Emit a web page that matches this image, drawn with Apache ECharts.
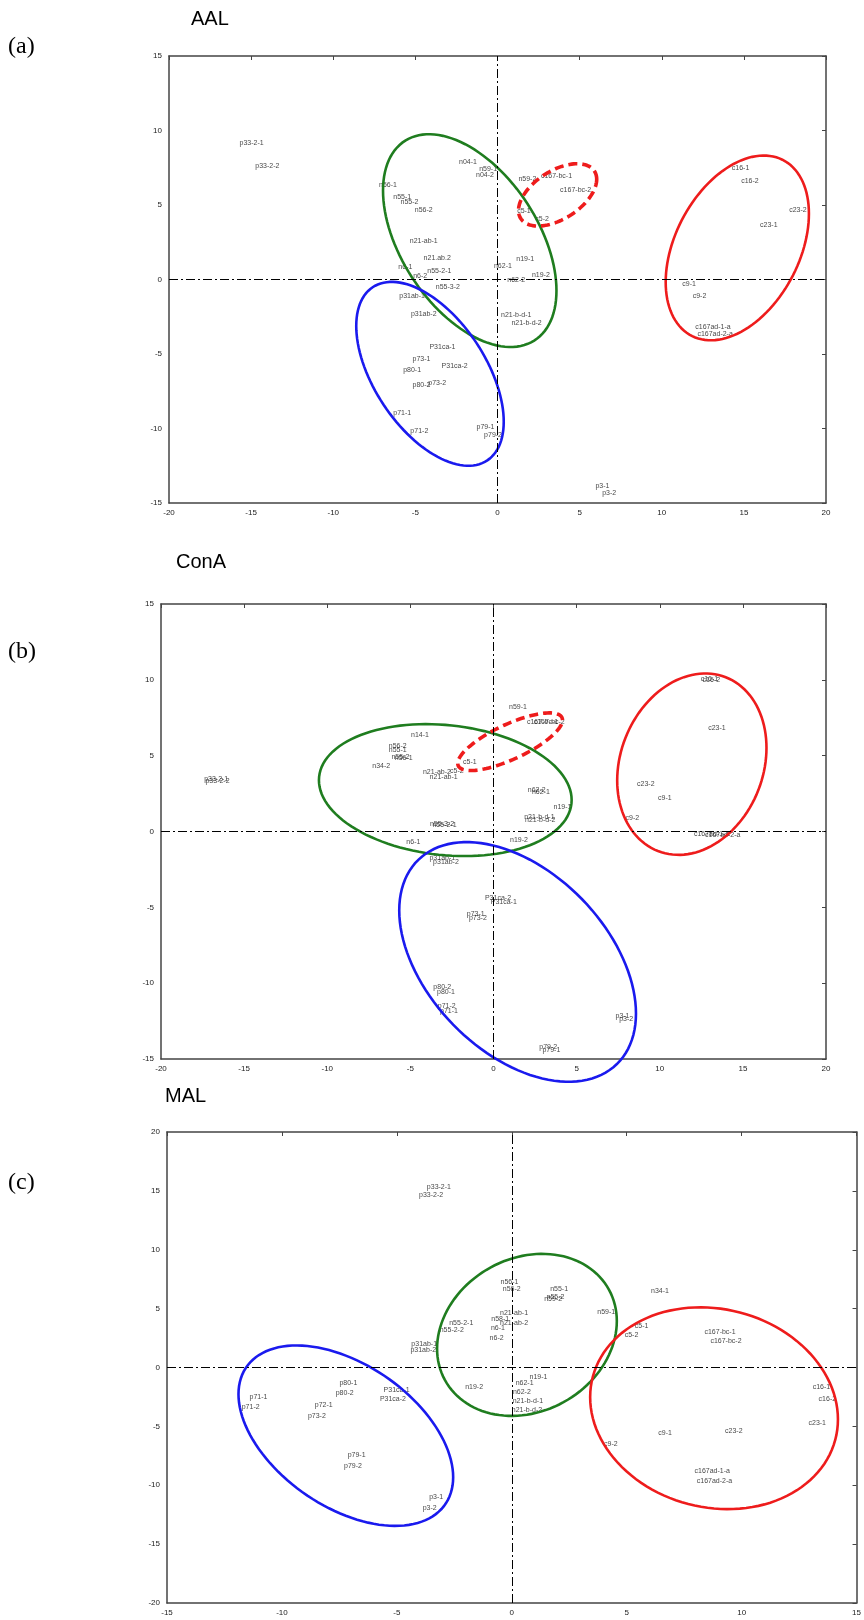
<!DOCTYPE html>
<html><head><meta charset="utf-8">
<script src="https://cdn.jsdelivr.net/npm/echarts@6/dist/echarts.min.js"></script>
<style>html,body{margin:0;padding:0;background:#fff}#c{width:864px;height:1620px}</style>
</head><body><div id="c"></div><script>
// ---------- AAL ----------
const aalLabels = ['p33-2-1','p33-2-2','n04-1','n59-1','n04-2','n59-2','c167-bc-1','c167-bc-2','n56-1','n55-1','n55-2','n56-2','c5-1','c5-2','n21-ab-1','n21.ab.2','n6-1','n55-2-1','n6-2','n62-1','n19-1','n19-2','n62-2','n55-3-2','p31ab-1','p31ab-2','n21-b-d-1','n21-b-d-2','P31ca-1','p73-1','P31ca-2','p80-1','p73-2','p80-2','p71-1','p71-2','p79-1','p79-2','p3-1','p3-2','c16-1','c16-2','c23-2','c23-1','c9-1','c9-2','c167ad-1-a','c167ad-2-a'];
const aalX = [-14.97,-14.01,-1.80,-0.57,-0.76,1.82,3.59,4.76,-6.67,-5.80,-5.36,-4.49,1.61,2.72,-4.49,-3.67,-5.61,-3.54,-4.71,0.33,1.69,2.64,1.14,-3.02,-5.20,-4.49,1.14,1.77,-3.35,-4.63,-2.61,-5.20,-3.67,-4.63,-5.80,-4.76,-0.73,-0.27,6.39,6.80,14.80,15.37,18.29,16.52,11.67,12.30,13.12,13.25];
const aalY = [9.19,7.58,7.91,7.44,7.00,6.77,6.91,6.01,6.32,5.56,5.20,4.66,4.62,4.08,2.56,1.43,0.85,0.54,0.22,0.92,1.35,0.31,-0.04,-0.54,-1.08,-2.29,-2.40,-2.91,-4.53,-5.34,-5.83,-6.05,-6.93,-7.11,-8.95,-10.20,-9.87,-10.43,-13.83,-14.35,7.47,6.61,4.66,3.63,-0.31,-1.12,-3.18,-3.63];
// ellipses: [centerX, centerY, halfWidth, halfHeight, correlation]
const aalEllipses = [[-1.69,2.61,5.28,7.14,-0.47],[-4.11,-6.33,4.49,6.17,-0.52],[14.6,2.12,4.36,6.2,0.37],[3.66,5.68,2.38,2.09,0.5]];
const aalEllipseKinds = ['green','blue','red','reddash'];

// ---------- ConA ----------
const conaLabels = ['p33-2-1','p33-2-2','n14-1','n56-2','n55-1','n55-2','n56-1','n34-2','n21-ab-2','n21-ab-1','c5-2','c5-1','n59-1','c167-bc-1','c167-bc-2','n62-2','n62-1','n19-1','n21-b-d-1','n21-b-d-2','n55-3-2','n55-2-1','n19-2','n6-1','p31ab-1','p31ab-2','P31ca-2','P31ca-1','p73-1','p73-2','p80-2','p80-1','p71-2','p71-1','p3-1','p3-2','p79-2','p79-1','c16-1','c16-2','c23-1','c23-2','c9-1','c9-2','c167ad-1-a','c167ad-2-a'];
const conaX = [-16.68,-16.60,-4.42,-5.76,-5.76,-5.60,-5.40,-6.75,-3.40,-3.00,-2.20,-1.42,1.47,2.95,3.35,2.60,2.85,4.15,2.76,2.81,-3.10,-2.95,1.53,-4.82,-3.08,-2.86,0.27,0.62,-1.07,-0.94,-3.08,-2.86,-2.81,-2.68,7.76,7.98,3.29,3.48,12.99,13.10,13.44,9.16,10.31,8.35,13.12,13.79];
const conaY = [3.49,3.30,6.33,5.65,5.36,4.90,4.86,4.33,3.90,3.60,3.99,4.56,8.21,7.24,7.24,2.75,2.62,1.63,0.95,0.73,0.50,0.43,-0.59,-0.70,-1.72,-2.02,-4.38,-4.67,-5.42,-5.74,-10.28,-10.57,-11.48,-11.82,-12.16,-12.34,-14.20,-14.43,10.07,10.00,6.85,3.15,2.22,0.88,-0.20,-0.25];
const conaEllipses = [[-2.9,2.73,7.6,4.35,-0.15],[1.45,-8.6,7.12,7.9,-0.43],[11.93,4.44,4.49,5.98,0.18],[1.0,5.92,3.15,1.9,0.75]];
const conaEllipseKinds = ['green','blue','red','reddash'];

// ---------- MAL ----------
const malLabels = ['p33-2-1','p33-2-2','n56-1','n56-2','n55-1','n55-2','n59-2','n34-1','n59-1','n21-ab-1','n21-ab-2','n58-1','n55-2-1','n55-2-2','n6-1','n6-2','c5-1','c5-2','c167-bc-1','c167-bc-2','p31ab-1','p31ab-2','n19-1','n62-1','n19-2','n62-2','n21-b-d-1','n21-b-d-2','p80-1','p80-2','P31ca-1','P31ca-2','p71-1','p71-2','p72-1','p73-2','p79-1','p79-2','p3-1','p3-2','c16-1','c16-2','c23-1','c9-1','c23-2','c9-2','c167ad-1-a','c167ad-2-a'];
const malX = [-3.17,-3.51,-0.10,0.00,2.06,1.90,1.80,6.45,4.11,0.10,0.10,-0.50,-2.20,-2.61,-0.60,-0.66,5.65,5.21,9.06,9.32,-3.81,-3.85,1.16,0.56,-1.64,0.44,0.70,0.66,-7.11,-7.27,-5.01,-5.17,-11.02,-11.36,-8.18,-8.48,-6.75,-6.91,-3.29,-3.57,13.47,13.73,13.29,6.67,9.66,4.31,8.72,8.82];
const malY = [15.32,14.68,7.25,6.65,6.65,6.01,5.80,6.47,4.71,4.59,3.75,4.10,3.75,3.20,3.32,2.54,3.50,2.72,2.99,2.24,1.96,1.48,-0.79,-1.30,-1.69,-2.11,-2.81,-3.63,-1.36,-2.15,-1.90,-2.66,-2.48,-3.35,-3.17,-4.11,-7.46,-8.40,-10.97,-11.93,-1.63,-2.72,-4.71,-5.56,-5.44,-6.50,-8.76,-9.61];
const malEllipses = [[0.66,2.77,3.91,6.88,0.17],[-7.22,-5.79,4.67,7.66,-0.46],[8.8,-3.46,5.39,8.57,-0.11]];
const malEllipseKinds = ['green','blue','red'];

// ---------- layout / styles ----------
const panels = [
  {labels: aalLabels, xs: aalX, ys: aalY, ell: aalEllipses, kinds: aalEllipseKinds,
   grid: {left:169, top:56, width:657, height:447}, xr:[-20,20], yr:[-15,15]},
  {labels: conaLabels, xs: conaX, ys: conaY, ell: conaEllipses, kinds: conaEllipseKinds,
   grid: {left:161, top:604, width:665, height:455}, xr:[-20,20], yr:[-15,15]},
  {labels: malLabels, xs: malX, ys: malY, ell: malEllipses, kinds: malEllipseKinds,
   grid: {left:167, top:1132, width:694, height:471}, xr:[-15,15], yr:[-20,20]}
];
const kindStyle = {
  green: {stroke:'#1f7d1f', lineWidth:2.6, lineDash:null},
  blue: {stroke:'#1a1aee', lineWidth:2.6, lineDash:null},
  red: {stroke:'#ee1c1c', lineWidth:2.6, lineDash:null},
  reddash: {stroke:'#ee1c1c', lineWidth:3.6, lineDash:[9,5]}
};

const grids = [], xAxes = [], yAxes = [], series = [];
const axisLine = {show:true, onZero:false, lineStyle:{color:'#444', width:1.5}};
const tickLabel = {fontSize:8, color:'#222', fontFamily:'Liberation Sans'};
panels.forEach((p, i) => {
  grids.push(Object.assign({containLabel:false}, p.grid));
  const bx = xAxes.length;
  xAxes.push({gridIndex:i, type:'value', position:'bottom', min:p.xr[0], max:p.xr[1], interval:5,
    axisLine, axisTick:{show:false}, splitLine:{show:false}, axisLabel:Object.assign({margin:6}, tickLabel)});
  xAxes.push({gridIndex:i, type:'value', position:'top', min:p.xr[0], max:p.xr[1], interval:5,
    axisLine, axisTick:{show:true, inside:true, length:4, lineStyle:{color:'#444'}}, splitLine:{show:false}, axisLabel:{show:false}});
  const by = yAxes.length;
  yAxes.push({gridIndex:i, type:'value', position:'left', min:p.yr[0], max:p.yr[1], interval:5,
    axisLine, axisTick:{show:false}, splitLine:{show:false}, axisLabel:Object.assign({margin:7}, tickLabel)});
  yAxes.push({gridIndex:i, type:'value', position:'right', min:p.yr[0], max:p.yr[1], interval:5,
    axisLine, axisTick:{show:true, inside:true, length:4, lineStyle:{color:'#444'}}, splitLine:{show:false}, axisLabel:{show:false}});
  series.push({
    type:'scatter', xAxisIndex:bx, yAxisIndex:by, symbolSize:1,
    itemStyle:{color:'rgba(0,0,0,0)'},
    data: p.labels.map((n, k) => ({name:n, value:[p.xs[k], p.ys[k]]})),
    label:{show:true, position:'inside', formatter:'{b}', fontSize:7, color:'#111', fontFamily:'Liberation Sans'},
    markLine:{silent:true, symbol:'none', label:{show:false},
      lineStyle:{color:'#000', width:1, type:[9,3,2,3]},
      data:[{xAxis:0},{yAxis:0}]},
    z:3
  });
  series.push({
    type:'custom', xAxisIndex:bx, yAxisIndex:by, clip:false, z:4,
    encode:{x:0, y:1},
    data: p.ell.map(e => e.slice()),
    renderItem: function(params, api) {
      const cx = api.value(0), cy = api.value(1), w = api.value(2), h = api.value(3), r = api.value(4);
      const k = Math.sqrt(1 - r * r);
      const pts = [];
      for (let j = 0; j < 120; j++) {
        const t = j / 120 * Math.PI * 2;
        pts.push(api.coord([cx + w * Math.cos(t), cy + h * (r * Math.cos(t) + k * Math.sin(t))]));
      }
      const st = kindStyle[p.kinds[params.dataIndex]];
      return {type:'polygon', shape:{points:pts},
        style:{fill:'none', stroke:st.stroke, lineWidth:st.lineWidth, lineDash:st.lineDash}};
    }
  });
});

const titleFont = {fontFamily:'Liberation Sans', fontSize:20, fill:'#000'};
const tagFont = {fontFamily:'Liberation Serif', fontSize:24, fill:'#000'};
const chart = echarts.init(document.getElementById('c'), null, {renderer:'canvas'});
chart.setOption({
  backgroundColor:'#fff',
  animation:false,
  grid:grids, xAxis:xAxes, yAxis:yAxes, series,
  graphic:[
    {type:'text', left:191, top:9, style:Object.assign({text:'AAL'}, titleFont)},
    {type:'text', left:176, top:552, style:Object.assign({text:'ConA'}, titleFont)},
    {type:'text', left:165, top:1086, style:Object.assign({text:'MAL'}, titleFont)},
    {type:'text', left:8, top:35, style:Object.assign({text:'(a)'}, tagFont)},
    {type:'text', left:8, top:640, style:Object.assign({text:'(b)'}, tagFont)},
    {type:'text', left:8, top:1171, style:Object.assign({text:'(c)'}, tagFont)}
  ]
});
</script></body></html>
